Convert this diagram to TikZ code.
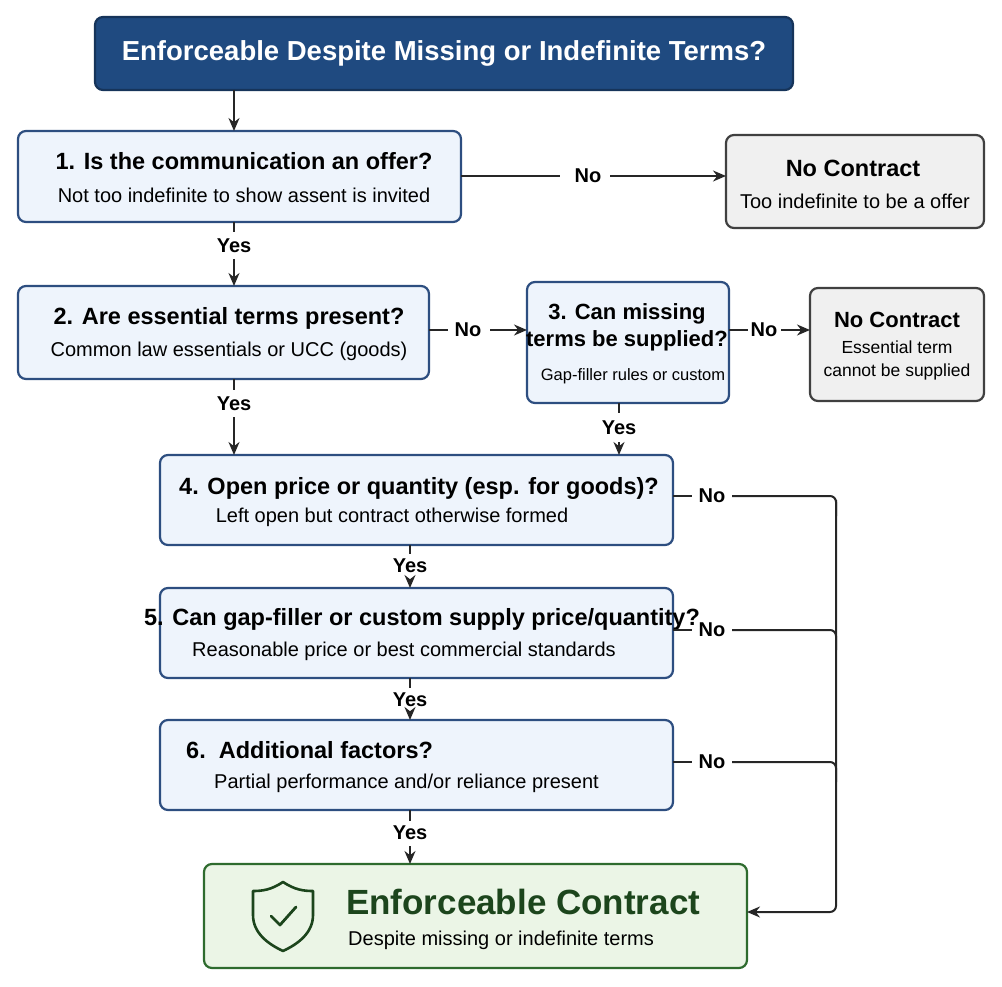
\documentclass[tikz,border=0pt]{standalone}
\usepackage{fontspec}
\setmainfont{Liberation Sans}
\usetikzlibrary{arrows.meta}
\definecolor{tblue}{HTML}{1F4A80}
\definecolor{bfill}{HTML}{EEF4FC}
\definecolor{bline}{HTML}{2D4E80}
\definecolor{gfill}{HTML}{F0F0F0}
\definecolor{gline}{HTML}{404040}
\definecolor{efill}{HTML}{EBF5E6}
\definecolor{eline}{HTML}{2E6B2E}
\definecolor{etext}{HTML}{1C451C}
\begin{document}
\begin{tikzpicture}[x=1pt,y=-1pt,
 box/.style={draw=bline,fill=bfill,line width=2.2pt,rounded corners=8pt},
 gbox/.style={draw=gline,fill=gfill,line width=2.2pt,rounded corners=8pt},
 ln/.style={line width=2pt,color=black!85},
 arr/.style={-{Stealth[length=13pt,width=11pt]},line width=2pt,color=black!85},
 lab/.style={fill=white,inner sep=3pt,font=\fontsize{20}{22}\selectfont\bfseries},
 h/.style={font=\fontsize{23.5}{26}\selectfont\bfseries,inner sep=0pt},
 s/.style={font=\fontsize{20}{22}\selectfont,inner sep=0pt}]
\useasboundingbox (0,0) rectangle (1002,987);
% title
\draw[fill=tblue,draw=tblue!70!black,line width=2.2pt,rounded corners=8pt] (95,17) rectangle (793,90);
\node[text=white,font=\fontsize{27.5}{30}\selectfont\bfseries] (title) at (444,53) {Enforceable Despite Missing or Indefinite Terms?};
% boxes
\draw[box] (18,131) rectangle (461,222);
\node[h] (b1) at (244,161) {1. Is the communication an offer?};
\node[s] at (244,195) {Not too indefinite to show assent is invited};
\draw[gbox] (726,135) rectangle (984,228);
\node[h] (n1) at (853,168) {No Contract};
\node[s] at (855,201) {Too indefinite to be a offer};
\draw[box] (18,286) rectangle (429,379);
\node[h] (b2) at (229,318) {2. Are essential terms present?};
\node[s] at (229,351) {Common law essentials or UCC (goods)};
\draw[box] (527,282) rectangle (729,403);
\node[h,align=center,font=\fontsize{22}{24}\selectfont\bfseries] (b3) at (627,327) {3. Can missing\\[3pt]terms be supplied?};
\node[font=\fontsize{16.5}{18}\selectfont,inner sep=0pt] at (633,376) {Gap-filler rules or custom};
\draw[gbox] (810,288) rectangle (984,401);
\node[h,font=\fontsize{22}{24}\selectfont\bfseries] (n2) at (897,320) {No Contract};
\node[s,align=center,font=\fontsize{17.5}{23}\selectfont] at (897,360) {Essential term\\cannot be supplied};
\draw[box] (160,455) rectangle (673,545);
\node[h] (b4) at (419,488) {4. Open price or quantity (esp. for goods)?};
\node[s] at (392,517) {Left open but contract otherwise formed};
\draw[box] (160,588) rectangle (673,678);
\node[h] (b5) at (422,619) {5. Can gap-filler or custom supply price/quantity?};
\node[s] at (404,651) {Reasonable price or best commercial standards};
\draw[box] (160,720) rectangle (673,810);
\node[h,anchor=west] (b6) at (186,750) {6.\ \ Additional factors?};
\node[s,anchor=west] at (214,783) {Partial performance and/or reliance present};
\draw[fill=efill,draw=eline,line width=2.2pt,rounded corners=8pt] (204,864) rectangle (747,968);
\node[font=\fontsize{35}{37}\selectfont\bfseries,text=etext,anchor=west,inner sep=0pt] (fin) at (346,902) {Enforceable Contract};
\node[s,anchor=west] at (348,940) {Despite missing or indefinite terms};
% shield
\draw[etext,line width=2.6pt,line join=round] (283,882) .. controls (295,890) and (304,891) .. (313,891) -- (313,915) .. controls (313,933) and (298,944) .. (283,951) .. controls (268,944) and (253,933) .. (253,915) -- (253,891) .. controls (262,891) and (271,890) .. (283,882) -- cycle;
\draw[etext,line width=2.8pt,line cap=round,line join=round] (271,916) -- (280,925) -- (296,907);
% connectors
\coordinate (a0) at (234,90); \coordinate (a1) at (234,131);
\draw[arr] (a0) -- (a1);
\draw[ln] (234,222) -- (234,232);
\node[lab] (y1) at (234,246) {Yes};
\draw[arr] (234,259) -- (234,286);
\draw[ln] (461,176) -- (560,176);
\node[lab] (no1) at (588,176) {No};
\draw[arr] (610,176) -- (726,176);
\draw[ln] (429,330) -- (448,330);
\node[lab] at (468,330) {No};
\draw[arr] (490,330) -- (527,330);
\draw[ln] (729,330) -- (748,330);
\node[lab] at (764,330) {No};
\draw[arr] (781,330) -- (810,330);
\draw[ln] (234,379) -- (234,390);
\node[lab] at (234,404) {Yes};
\draw[arr] (234,417) -- (234,455);
\draw[ln] (619,403) -- (619,413);
\node[lab] at (619,428) {Yes};
\draw[arr] (619,442) -- (619,455);
\foreach \ya/\yl/\yb in {545/566/588,678/700/720,810/833/864}{
 \draw[ln] (410,\ya) -- (410,\yl-12);
 \node[lab] at (410,\yl) {Yes};
 \draw[arr] (410,\yl+13) -- (410,\yb);
}
\foreach \y in {496,630,762}{
 \draw[ln] (673,\y) -- (692,\y);
 \node[lab] at (712,\y) {No};
 \draw[ln,rounded corners=6pt] (732,\y) -- (836,\y) -- (836,\y+20);
}
\draw[arr,rounded corners=6pt] (836,500) -- (836,912) -- (747,912);
\end{tikzpicture}
\end{document}
